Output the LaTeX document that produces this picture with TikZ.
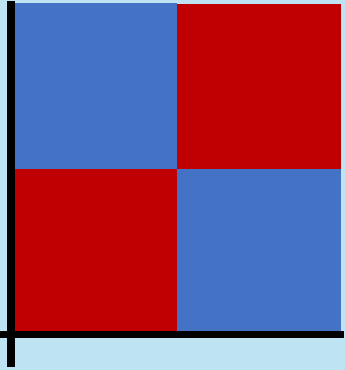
\documentclass[tikz,border=0pt]{standalone}
\usepackage{xcolor}
\usetikzlibrary{arrows.meta,positioning}
\definecolor{skyback}{HTML}{BEE4F4}
\definecolor{cellblue}{HTML}{4472C4}
\definecolor{cellred}{HTML}{C00000}
\begin{document}
\begin{tikzpicture}[
  x=1pt,y=-1pt,
  cell/.style={draw=none,inner sep=0pt},
  axis/.style={line width=7pt,black,line cap=butt}
]
\fill[skyback] (0,0) rectangle (345,370);
\useasboundingbox (0,0) rectangle (345,370);
% quadrants
\fill[cellblue] (15,3) rectangle (176.5,168.5);
\fill[cellred] (176.5,4) rectangle (341,168.5);
\fill[cellred] (15,168.5) rectangle (177,331);
\fill[cellblue] (177,168.5) rectangle (341,331);
% axes
\coordinate (ytop) at (11,1);
\coordinate (ybot) at (11,367);
\coordinate (xleft) at (0,334.5);
\coordinate (xright) at (344,334.5);
\draw[axis,line width=8pt] (ytop) -- (ybot);
\draw[axis] (xleft) -- (xright);
\end{tikzpicture}
\end{document}
